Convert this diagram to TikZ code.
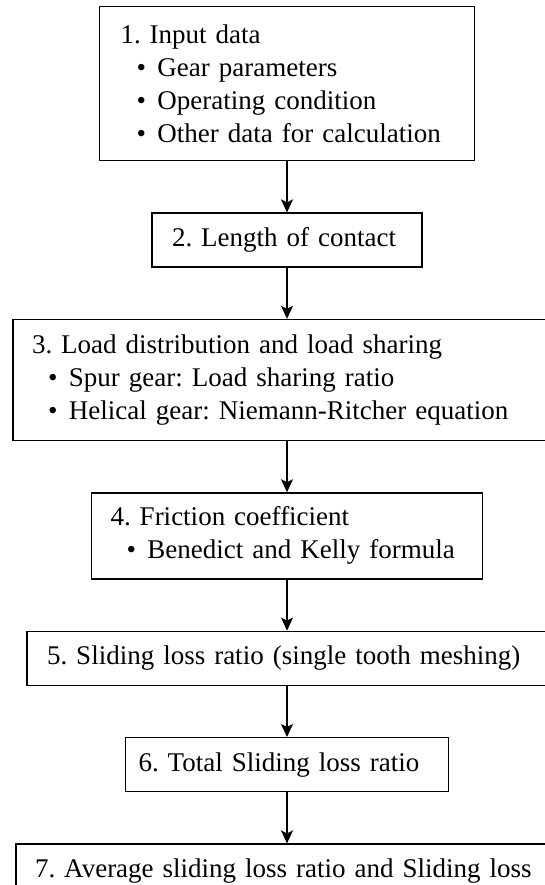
\documentclass[tikz,border=0pt]{standalone}
\usepackage{fontspec}
\setmainfont{Liberation Serif}
\usepackage{tikz}
\usetikzlibrary{positioning,arrows.meta}
\newcommand{\boxfont}{\fontsize{27}{33}\selectfont\frenchspacing\hyphenpenalty=10000\relax}
\tikzset{
  node-box/.style={draw,line width=1.4pt,fill=white,inner ysep=0pt,
    align=left,font=\boxfont},
  arrow/.style={-{Stealth[length=13pt,width=12pt,inset=3pt]},line width=1.2pt},
}
\newcommand{\itm}[1]{\hspace*{16pt}\makebox[21pt][l]{\textbullet}#1}

\begin{document}
\begin{tikzpicture}[x=1pt,y=-1pt,node distance=51pt]
  \useasboundingbox (0,0) rectangle (545,885);
  \node[node-box,anchor=north,minimum width=375pt,minimum height=154pt,
    inner xsep=21pt,text width=333pt] (input) at (287,6)
    {1. Input data\\ \itm{Gear parameters}\\ \itm{Operating condition}\\
     \itm{Other data for calculation}};
  \node[node-box,below=of input,minimum width=270pt,minimum height=54pt,
    inner xsep=20pt,text width=230pt] (contact) {2. Length of contact};
  \node[node-box,below=of contact,minimum width=548pt,minimum height=121pt,
    inner xsep=19pt,text width=510pt] (load)
    {3. Load distribution and load sharing\\ \itm{Spur gear: Load sharing ratio}\\
     \itm{Helical gear: Niemann-Ritcher equation}};
  \node[node-box,below=of load,minimum width=391pt,minimum height=86pt,
    inner xsep=19pt,text width=353pt] (friction)
    {4. Friction coefficient\\ \itm{Benedict and Kelly formula}};
  \node[node-box,below=of friction,minimum width=520pt,minimum height=54pt,
    inner xsep=20pt,text width=480pt] (single) {5. Sliding loss ratio (single tooth meshing)};
  \node[node-box,below=of single,minimum width=323pt,minimum height=54pt,
    inner xsep=13pt,text width=297pt] (total) {6. Total Sliding loss ratio};
  \node[node-box,below=of total,minimum width=542pt,minimum height=54pt,
    inner xsep=19pt,text width=504pt] (average) {7. Average sliding loss ratio and Sliding loss};
  % arrows between the steps
  \foreach \a/\b in {input/contact,contact/load,load/friction,friction/single,
    single/total,total/average}
    \draw[arrow] (\a) -- (\b);
\end{tikzpicture}
\end{document}
